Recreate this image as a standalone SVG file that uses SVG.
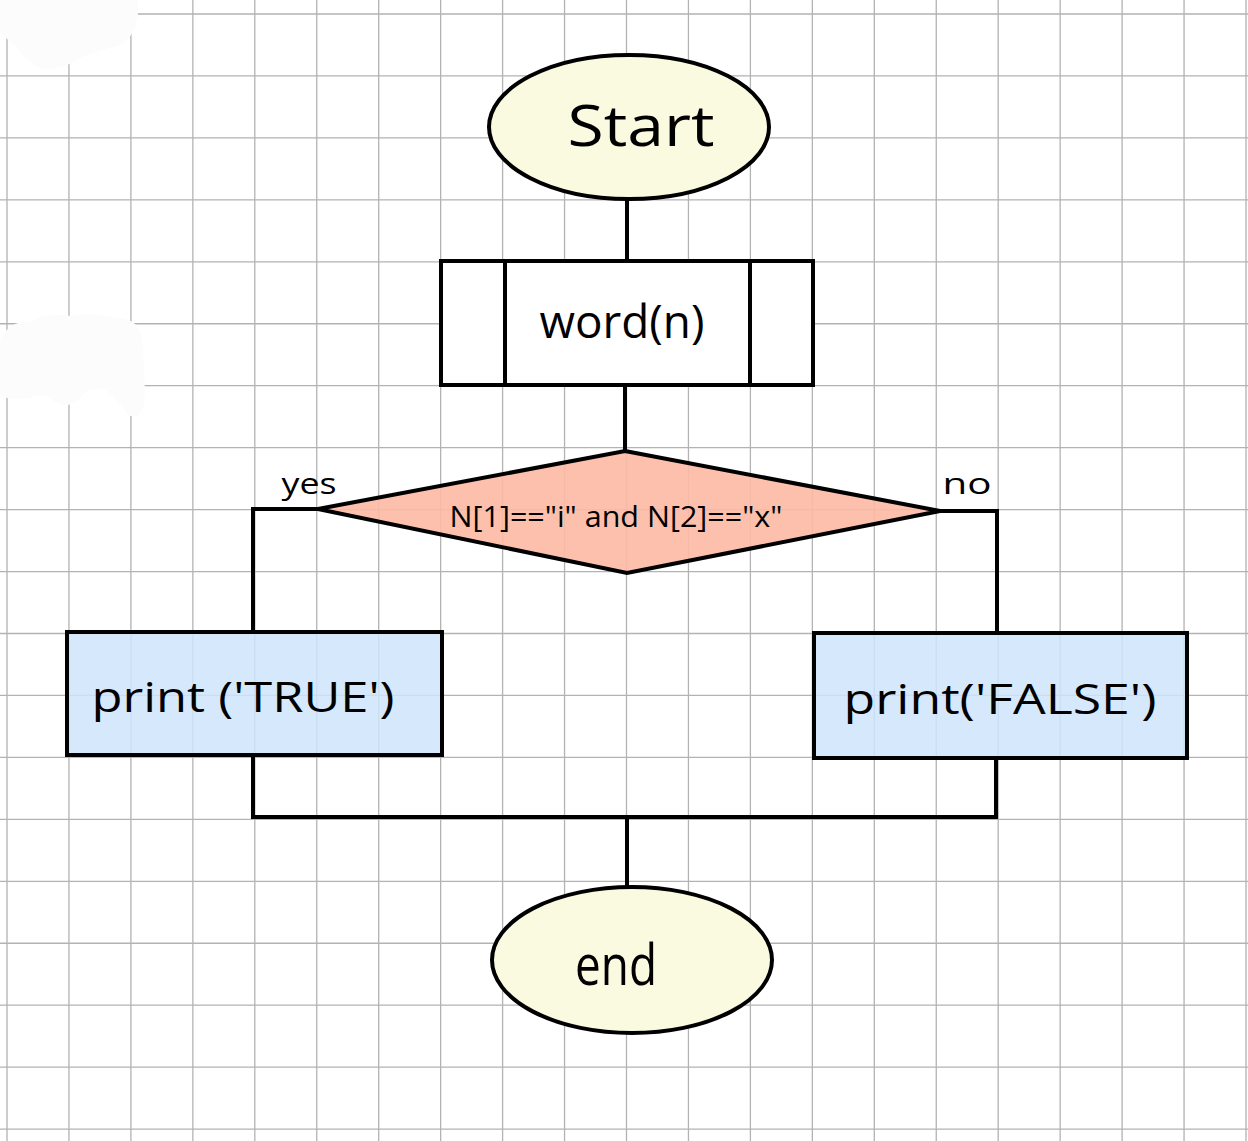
<svg xmlns="http://www.w3.org/2000/svg" width="1248" height="1141" viewBox="0 0 1248 1141">
<style>
.grid{stroke:#b3b3b3;stroke-width:1.3;fill:none}
.shape{stroke:#000;stroke-width:4;stroke-linejoin:miter}
.conn{stroke:#000;stroke-width:4;fill:none}
.t{font-family:"Open Sans","Liberation Sans",sans-serif;fill:#000;text-anchor:middle}
</style>
<rect width="1248" height="1141" fill="#fff"/>
<g id="grid">
<path class="grid" d="M7 0V1141M68.95 0V1141M130.9 0V1141M192.85 0V1141M254.8 0V1141M316.75 0V1141M378.7 0V1141M440.65 0V1141M502.6 0V1141M564.55 0V1141M626.5 0V1141M688.45 0V1141M750.4 0V1141M812.35 0V1141M874.3 0V1141M936.25 0V1141M998.2 0V1141M1060.15 0V1141M1122.1 0V1141M1184.05 0V1141M1246 0V1141M0 14H1248M0 75.95H1248M0 137.9H1248M0 199.85H1248M0 261.8H1248M0 323.75H1248M0 385.7H1248M0 447.65H1248M0 509.6H1248M0 571.55H1248M0 633.5H1248M0 695.45H1248M0 757.4H1248M0 819.35H1248M0 881.3H1248M0 943.25H1248M0 1005.2H1248M0 1067.15H1248M0 1129.1H1248"/>
<path fill="#fcfcfc" d="M0 0H138V14Q134 40 118 46Q100 50 80 58Q60 72 40 68Q24 60 14 44Q4 38 0 30Z"/>
<path fill="#fcfcfc" d="M0 340Q10 320 30 322Q50 312 70 316Q95 312 120 318Q140 320 142 340Q146 380 144 405Q140 420 128 415Q118 400 105 390Q90 385 80 398Q68 410 55 402Q44 392 30 398Q12 402 0 395Z"/>
</g>
<g id="connectors">
<path class="conn" d="M627 200V262"/>
<path class="conn" d="M625 385V452"/>
<path class="conn" d="M318 509H253V633"/>
<path class="conn" d="M940 511H997V634"/>
<path class="conn" d="M253 755V817H996V758"/>
<path class="conn" d="M627 817V886"/>
</g>
<g id="start">
<ellipse class="shape" cx="629" cy="127" rx="140" ry="72" fill="#fafae0"/>
<text class="t" x="641" y="146" font-size="56" textLength="147" lengthAdjust="spacingAndGlyphs">Start</text>
</g>
<g id="word">
<rect class="shape" x="441" y="261" width="372" height="124" fill="#fff"/>
<path class="conn" d="M505 261V385M750 261V385"/>
<text class="t" x="622" y="338" font-size="46" textLength="165" lengthAdjust="spacingAndGlyphs">word(n)</text>
</g>
<g id="decision">
<polygon class="shape" points="625,451 940,511 627,573 318,509" fill="#fcb9a4" fill-opacity="0.9"/>
<text class="t" x="616" y="527" font-size="30" textLength="333" lengthAdjust="spacingAndGlyphs">N[1]=="i" and N[2]=="x"</text>
</g>
<g id="labels">
<text class="t" x="309" y="494" font-size="30" textLength="55" lengthAdjust="spacingAndGlyphs">yes</text>
<text class="t" x="967" y="494" font-size="30" textLength="49" lengthAdjust="spacingAndGlyphs">no</text>
</g>
<g id="true">
<rect class="shape" x="67" y="632" width="375" height="123" fill="#cfe4fb" fill-opacity="0.85"/>
<text class="t" x="243" y="712" font-size="42" textLength="303" lengthAdjust="spacingAndGlyphs">print ('TRUE')</text>
</g>
<g id="false">
<rect class="shape" x="814" y="633" width="373" height="125" fill="#cfe4fb" fill-opacity="0.85"/>
<text class="t" x="1000" y="714" font-size="42" textLength="313" lengthAdjust="spacingAndGlyphs">print('FALSE')</text>
</g>
<g id="end">
<ellipse class="shape" cx="632" cy="960" rx="140" ry="73" fill="#fafae0"/>
<text class="t" x="616" y="985" font-size="56" textLength="82" lengthAdjust="spacingAndGlyphs">end</text>
</g>
</svg>
